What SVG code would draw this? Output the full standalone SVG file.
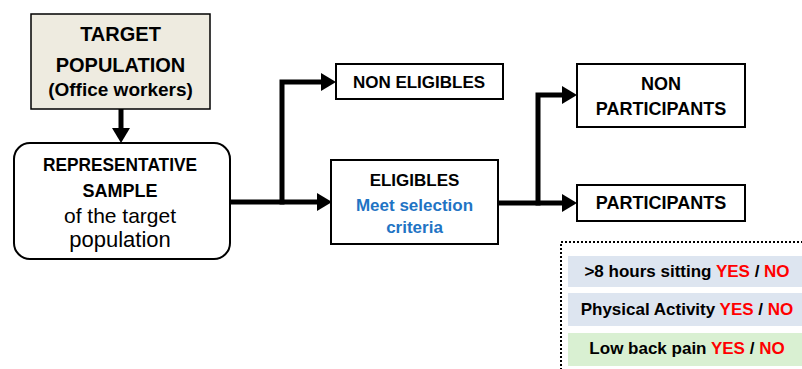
<svg xmlns="http://www.w3.org/2000/svg" width="802" height="369" viewBox="0 0 802 369">
  <style>
    .box { fill: #ffffff; stroke: #000000; stroke-width: 2; }
    .t { font-family: "Liberation Sans", Arial, sans-serif; font-size: 18px; text-anchor: middle; fill: #000000; }
    .b { font-weight: bold; }
    .blue { fill: #1f74c4; }
    .link { fill: none; stroke: #000000; stroke-width: 5; stroke-linejoin: miter; }
    .leg { font-family: "Liberation Sans", Arial, sans-serif; font-size: 17px; font-weight: bold; text-anchor: middle; fill: #000000; }
    .red { fill: #ff0000; }
  </style>
  <defs>
    <marker id="arrow" markerUnits="userSpaceOnUse" markerWidth="16" markerHeight="18" refX="0" refY="9" orient="auto" overflow="visible">
      <path d="M0,0 L15,9 L0,18 Z" fill="#000000"/>
    </marker>
  </defs>

  <g id="target-population">
    <rect x="31" y="14" width="179" height="95" fill="#eeebe0" stroke="#000000" stroke-width="1.5"/>
    <text class="t b" x="120.5" y="40.5" style="font-size:20px">TARGET</text>
    <text class="t b" x="120.5" y="71.5" style="font-size:20px">POPULATION</text>
    <text class="t b" x="120.5" y="96" style="font-size:19px">(Office workers)</text>
  </g>

  <g id="representative-sample">
    <rect class="box" x="14" y="143" width="216" height="116" rx="16" ry="16"/>
    <text class="t b" x="120" y="171" textLength="154" lengthAdjust="spacingAndGlyphs">REPRESENTATIVE</text>
    <text class="t b" x="120" y="196.5">SAMPLE</text>
    <text class="t" x="120" y="223" style="font-size:21px">of the target</text>
    <text class="t" x="120" y="247" style="font-size:22px">population</text>
  </g>

  <g id="non-eligibles">
    <rect class="box" x="336" y="64" width="167" height="35"/>
    <text class="t b" x="419" y="88" style="font-size:17px">NON ELIGIBLES</text>
  </g>

  <g id="eligibles">
    <rect class="box" x="331" y="160" width="167" height="84"/>
    <text class="t b" x="414.5" y="185.5" style="font-size:17px">ELIGIBLES</text>
    <text class="t b blue" x="414.5" y="211" style="font-size:17px">Meet selection</text>
    <text class="t b blue" x="414.5" y="232.5" style="font-size:17px">criteria</text>
  </g>

  <g id="non-participants">
    <rect class="box" x="577" y="64" width="168" height="63"/>
    <text class="t b" x="661" y="89.5">NON</text>
    <text class="t b" x="661" y="115.3">PARTICIPANTS</text>
  </g>

  <g id="participants">
    <rect class="box" x="577" y="185" width="168" height="36"/>
    <text class="t b" x="661" y="208.5">PARTICIPANTS</text>
  </g>

  <g id="connectors">
    <path class="link" d="M121,109 V128" marker-end="url(#arrow)"/>
    <path class="link" d="M230,202 H317" marker-end="url(#arrow)"/>
    <path class="link" d="M282,204.5 V82 H321" marker-end="url(#arrow)"/>
    <path class="link" d="M498,203 H562" marker-end="url(#arrow)"/>
    <path class="link" d="M538,205.5 V95 H562" marker-end="url(#arrow)"/>
  </g>

  <g id="legend">
    <rect x="561" y="242" width="260" height="140" fill="none" stroke="#000000" stroke-width="2" stroke-dasharray="2 2"/>
    <rect x="568" y="256" width="240" height="31" fill="#dde5f0"/>
    <rect x="568" y="293" width="240" height="33" fill="#dde5f0"/>
    <rect x="568" y="333" width="240" height="33" fill="#d9f0d2"/>
    <text class="leg" x="687" y="277">&gt;8 hours sitting <tspan class="red">YES</tspan> / <tspan class="red">NO</tspan></text>
    <text class="leg" x="687" y="315">Physical Activity <tspan class="red">YES</tspan> / <tspan class="red">NO</tspan></text>
    <text class="leg" x="687" y="353.5">Low back pain <tspan class="red">YES</tspan> / <tspan class="red">NO</tspan></text>
  </g>
</svg>
